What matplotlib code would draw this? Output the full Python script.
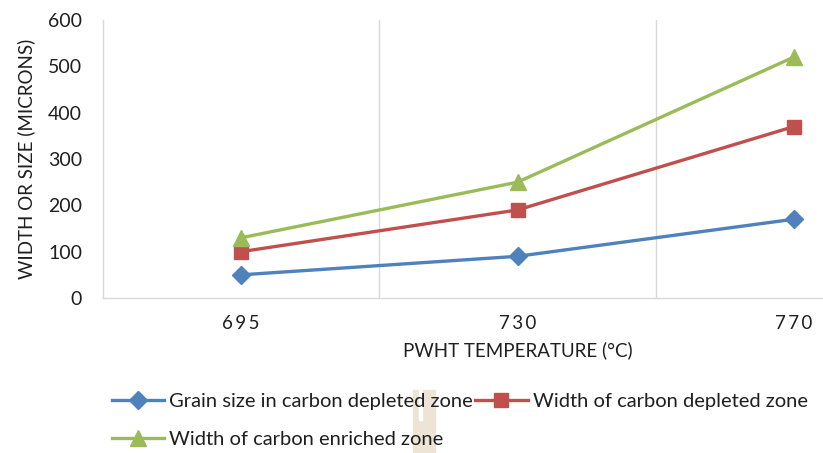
import matplotlib
matplotlib.use("Agg")
import matplotlib.pyplot as plt
from matplotlib.patches import Rectangle
import numpy as np

plt.rcParams['font.family'] = ['Lato', 'DejaVu Sans']

# data
temps = ["695", "730", "770"]
grain_size = [50, 90, 170]
depleted_width = [100, 190, 370]
enriched_width = [130, 250, 520]

series = [
    ("Grain size in carbon depleted zone", grain_size, "#4f81bd", "D", 9),
    ("Width of carbon depleted zone", depleted_width, "#c0504d", "s", 10),
    ("Width of carbon enriched zone", enriched_width, "#9bbb59", "^", 11),
]

fig = plt.figure(figsize=(8.23, 4.53), dpi=100)
ax = fig.add_axes([103 / 823, 155 / 453, 829 / 823, 278 / 453])

x = np.arange(len(temps))
lines = {}
for label, vals, col, mk, ms in series:
    lines[label], = ax.plot(x, vals, color=col, linewidth=2.4, marker=mk,
                            markersize=ms, label=label, zorder=3)

ax.set_xlim(-0.5, len(temps) - 0.5)
ax.set_ylim(0, 600)
ax.set_yticks(np.arange(0, 601, 100))
ax.set_xticks(x)
ax.set_xticklabels(["\u2009".join(t) for t in temps])
ax.set_xticks(x[:-1] + 0.5, minor=True)
ax.grid(which='minor', axis='x', color='#d9d9d9', linewidth=1)
ax.tick_params(which='both', length=0)
ax.tick_params(axis='y', pad=15, labelsize=14, labelcolor='#1f1f1f')
ax.tick_params(axis='x', pad=12, labelsize=13.5, labelcolor='#1f1f1f')

for s in ['top', 'right']:
    ax.spines[s].set_visible(False)
for s in ['left', 'bottom']:
    ax.spines[s].set_color('#d9d9d9')
    ax.spines[s].set_linewidth(1)

ax.set_xlabel("PWHT TEMPERATURE (°C)", fontsize=13.5, color='#1f1f1f', labelpad=7)
ax.set_ylabel("WIDTH OR SIZE (MICRONS)", fontsize=13.5, color='#1f1f1f', labelpad=9)

# scan artefact behind the legend
fig.patches.append(Rectangle((413 / 823, 0), 22 / 823, 63 / 453,
                             transform=fig.transFigure, color='#ede4d6', zorder=0))
fig.patches.append(Rectangle((419 / 823, 33 / 453), 3 / 823, 30 / 453,
                             transform=fig.transFigure, color='white', zorder=0))

# row-major order like the original: grain, depleted / enriched
order = [series[0][0], series[2][0], series[1][0]]
leg = fig.legend([lines[k] for k in order], order,
                 loc='upper left', bbox_to_anchor=(112 / 823, 1 - 393 / 453),
                 ncol=2, frameon=False, fontsize=14.5, handlelength=2.6,
                 handletextpad=0.25, columnspacing=0.1, labelspacing=1.05,
                 borderaxespad=0, borderpad=0)
for t in leg.get_texts():
    t.set_color('#1f1f1f')

fig.savefig("out.png", dpi=100)
